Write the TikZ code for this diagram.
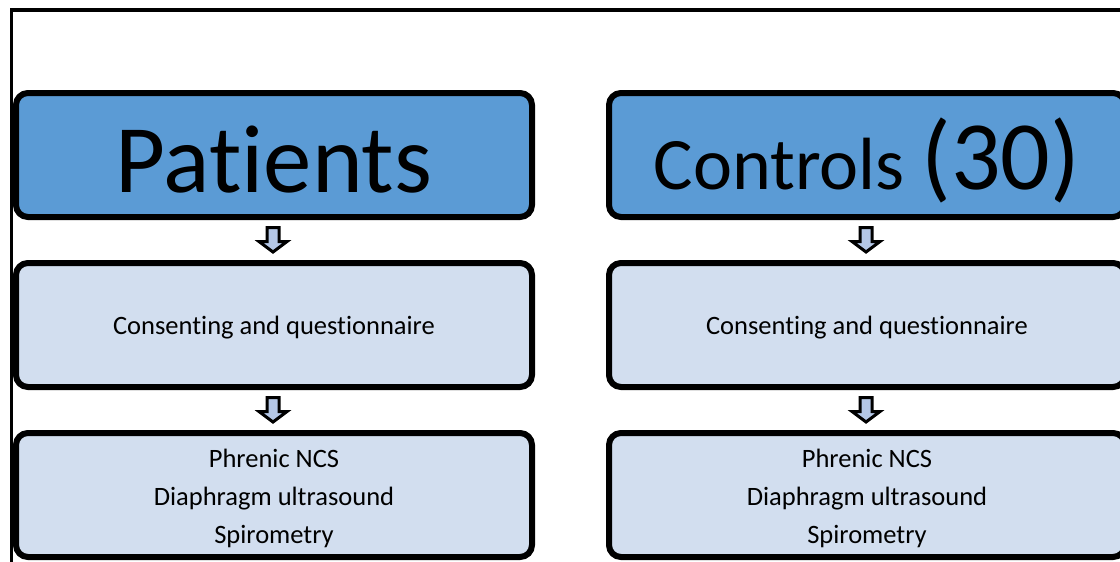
\documentclass[tikz,border=0pt]{standalone}
\usepackage{fontspec}
\setmainfont[Ligatures=NoCommon]{Carlito}
\usepackage{tikz}
\usetikzlibrary{positioning,calc}

\definecolor{headblue}{RGB}{91,155,213}
\definecolor{paleblue}{RGB}{210,222,239}
\definecolor{arrowblue}{RGB}{180,199,231}

\begin{document}
\begin{tikzpicture}[x=0.5pt, y=-0.5pt,
  headbox/.style={draw=black, line width=3pt, rounded corners=6pt, fill=headblue,
    minimum width=258pt, minimum height=62pt, inner sep=0pt},
  stagebox/.style={draw=black, line width=3pt, rounded corners=6pt, fill=paleblue,
    minimum width=258pt, minimum height=62pt, inner sep=0pt},
  stagetext/.style={align=center, font=\fontsize{13.25}{19}\selectfont},
  blockarrow/.style={draw=black, line width=1.5pt, fill=arrowblue, line join=miter}]

\useasboundingbox (0,0) rectangle (1120,562);
\clip (0,0) rectangle (1120,562);

% outer frame (cut off on the right and at the bottom)
\draw[line width=1.75pt] (11.5,700) -- (11.5,10) -- (1300,10);

% patients column
\node[headbox] (pat) at (274,155) {};
\node[font=\fontsize{48.4}{52}\selectfont] (pattitle) at ([yshift=-2.5pt]pat.center) {Patients};
\node[stagebox, below=20pt of pat] (patcons) {};
\node[stagebox, below=20pt of patcons] (pattest) {};
\node[stagetext] at ([yshift=-1.5pt]patcons.center) {Consenting and questionnaire};
\node[stagetext] at ([yshift=-1.5pt]pattest.center) {Phrenic NCS\\Diaphragm ultrasound\\Spirometry};

% controls column
\node[headbox, right=35.5pt of pat] (ctl) {};
\node[font=\fontsize{37}{40}\selectfont] (ctltitle) at ([yshift=-2.5pt]ctl.center)
  {Controls {\fontsize{49}{52}\selectfont(30)}};
\node[stagebox, below=20pt of ctl] (ctlcons) {};
\node[stagebox, below=20pt of ctlcons] (ctltest) {};
\node[stagetext] at ([yshift=-1.5pt]ctlcons.center) {Consenting and questionnaire};
\node[stagetext] at ([yshift=-1.5pt]ctltest.center) {Phrenic NCS\\Diaphragm ultrasound\\Spirometry};

% block arrows between the stages
\foreach \up/\down in {pat/patcons, patcons/pattest, ctl/ctlcons, ctlcons/ctltest}
  \draw[blockarrow] ($(\up.south)!0.5!(\down.north)+(-1,0)$)
    +(-6,-12.5) -- +(6,-12.5) -- +(6,1.5) -- +(14,1.5) -- +(0,12) -- +(-14,1.5) -- +(-6,1.5) -- cycle;

\end{tikzpicture}
\end{document}
